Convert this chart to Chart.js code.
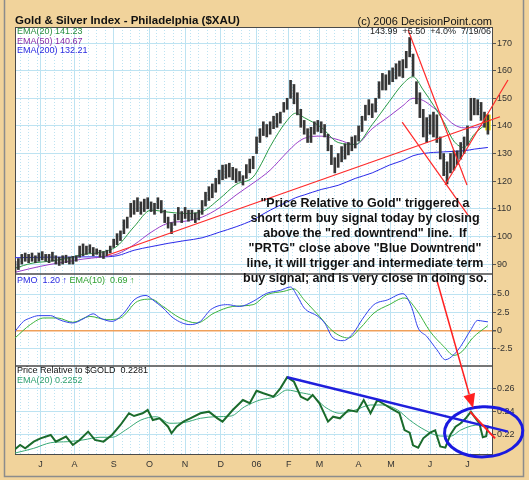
<!DOCTYPE html>
<html>
<head>
<meta charset="utf-8">
<script src="https://cdn.jsdelivr.net/npm/chart.js@4.4.1/dist/chart.umd.min.js"></script>
<style>
  html, body { margin: 0; padding: 0; background: #f1d39b; }
  #wrap { position: relative; width: 529px; height: 480px; overflow: hidden; }
  #wrap canvas { position: absolute; left: 0; top: 0; }
  .lbl { position: absolute; font-family: "Liberation Sans", Arial, sans-serif; white-space: pre; line-height: 1; }
  .note { position: absolute; left: 215px; top: 196px; width: 300px; text-align: center;
          font: bold 12.5px/15px "Liberation Sans", Arial, sans-serif; color: #111; white-space: pre; }
</style>
</head>
<body>
<div id="wrap">
  <canvas id="chart" width="529" height="480"></canvas>
  <div class="lbl" style="left:15px;top:15px;font-size:11.5px;font-weight:bold;color:#111">Gold &amp; Silver Index - Philadelphia ($XAU)</div>
  <div class="lbl" style="right:37px;top:15.7px;font-size:11px;color:#111">(c) 2006 DecisionPoint.com</div>
  <div class="lbl" style="right:38px;top:27.4px;font-size:9px;color:#222">143.99  +5.50  +4.0%  7/19/06</div>
  <div class="lbl" style="left:17px;top:27.4px;font-size:9px;color:#2a8f3f">EMA(20) 141.23</div>
  <div class="lbl" style="left:17px;top:36.9px;font-size:9px;color:#8a2fa8">EMA(50) 140.67</div>
  <div class="lbl" style="left:17px;top:46.4px;font-size:9px;color:#2a2ae0">EMA(200) 132.21</div>
  <div class="lbl" style="left:17px;top:276.4px;font-size:9px;color:#2a2ae0">PMO  1.20 &#8593; <span style="color:#30a030">EMA(10)  0.69 &#8593;</span></div>
  <div class="lbl" style="left:17px;top:366.4px;font-size:9px;color:#111">Price Relative to $GOLD  0.2281</div>
  <div class="lbl" style="left:17px;top:376.4px;font-size:9px;color:#30a070">EMA(20) 0.2252</div>
  <div class="note">"Price Relative to Gold" triggered a
short term buy signal today by closing
above the "red downtrend" line.  If
"PRTG" close above "Blue Downtrend"
line, it will trigger and intermediate term
buy signal; and is very close in doing so.</div>
</div>
<script>
// x positions are trading-day numbers, day 0 = early June 2005, day 278 = 7/19/06
const monthDays = [15, 35, 58, 79, 100, 121, 142, 161, 179, 202, 221, 244, 266];
const monthLabels = ['J', 'A', 'S', 'O', 'N', 'D', '06', 'F', 'M', 'A', 'M', 'J', 'J'];
const priceTicks = [90, 100, 110, 120, 130, 140, 150, 160, 170];
const pmoTicks = [-2.5, 0, 2.5, 5];
const prTicks = [0.22, 0.24, 0.26];

// daily price bars, one every second trading day
const priceLow = [87,88,90,91,90.5,91,90.5,91,91.5,91, 90.5,91,90,89.5,90,90.5,90,90,91,92.5,
  93,93.5,94,93,93.5,92.5,92,93,94,96, 97,98.5,101,103,107,108,109,108,109,110,
  109,108,110,108.5,105,103,101,104,106,105, 106.5,105.5,106,105,106,108,111,113,114,116,
  119,120.5,121,121.5,120.5,119.5,120,118.6,121,123, 124.5,130,134,136.5,136,137,139,139.5,141,145,
  146,150,148,144,139.5,137,134,134,137,138, 137.5,136,131,126,123,125,127,128,129.5,131,
  132,134.5,138,142,144,143,145,150,153,153, 155,156,157,158,157.5,161,165,158,148,143,
  136,134,137,136,134,128,122,119,123,124, 126,128,130,133,142,144,144,142,139.5,137];
const priceHigh = [91,92,93.5,94,93.5,94,93,94,94.5,93.5, 93.5,94.3,93,92.5,93,93.2,92.5,92.8,93,96.5,
  97.3,96.5,97,96,95.5,95,94.5,95,96.5,99, 101,102,106,107,112,113,114,112.5,113.5,114,
  112.5,112,114,113,109.5,107,105,108,110.5,109, 110.5,109.5,109.5,108.5,109.5,113,116,118,119,121,
  124,125.8,126,126.5,125,124.5,123.5,122,126,128, 129,136,139,141.5,140.5,141.5,143.5,144.5,145,148.5,
  150,156.5,155,152,146,142,139,139.5,141.5,142, 141.5,140.5,137,133,128.5,130,132.5,133.5,134,136,
  136.5,140,143.5,147.5,149.5,148,150,156,159,158.5, 160,161,162.5,163.5,164,167,172,166,156,152,
  146,143,144,145,144,136,130,127,130,131, 131,134,136,140,150,150,149.5,148.5,145,144];
const barDays = priceLow.map((_, i) => i * 2);
const lastDay = 278;
const lastBar = [138.5, 144];

const emaDays = [0,10,20,30,40,50,60,70,80,90,100,110,120,130,140,145,150,160,165,170,
  180,190,200,210,220,228,234,240,246,252,258,264,270,278];
const ema20 = [88.5,90.3,91,92,93.5,94.2,96.5,103.5,109.5,108.8,108.3,109,113.5,118.8,121.5,126.5,132.5,142,144.6,143,
  139.5,134,133.3,140.5,148.8,155.2,157.8,153,147.5,141.5,134.5,132.2,137,141.2];
const ema50 = [87,88.5,89.8,90.8,91.8,92.5,93.6,97,101.5,104.8,105.5,107,110.3,115,119.3,121.5,124,130.5,133.5,135.5,
  136.3,135,133.2,139,143.5,147.3,150,149.2,146.6,143.8,140.5,139.3,139.4,141];
const ema200 = [92.3,92.4,92.5,92.5,92.6,92.6,93,95,96.3,97.5,98.5,99.5,101.5,103.5,106,107.8,109.5,112.5,114,115,
  117,118.5,121,123,125.8,127.5,129.2,130,130.4,130.6,130.8,131,131.6,132.2];

const pmoDays = [0,5,9,14,21,26,34,40,46,50,57,64,70,77,81,87,93,103,109,115,125,132,140,148,156,162,166,170,178,182,
  187,193,199,204,211,219,228,233,237,242,248,253,258,262,268,272,275,278];
const pmo = [-0.1,1.27,1.73,2.05,2.05,1.5,1.05,1.6,2.3,1.73,1.27,2.4,4.2,4.8,4.2,3.1,1.73,0.82,1.27,2.86,
  3.55,3.3,4.0,5.1,5.5,5.96,4.7,3.1,1.95,1.05,-1.0,-1.36,-0.3,1.5,3.55,4.2,5.05,3.3,0.36,-0.77,
  -2.6,-3.96,-3.27,-2.14,0.14,1.4,1.3,1.2];
const pmoEmaDays = [0,9,17,25,34,44,54,62,72,80,87,97,107,117,128,140,148,158,164,170,
  179,187,196,203,211,220,229,236,244,252,258,263,269,278];
const pmoEma = [-1.0,0.82,1.73,1.73,1.14,1.95,1.5,1.73,4.0,4.3,3.3,1.73,1.05,2.4,3.3,3.55,4.9,5.36,5.7,4.2,
  1.95,-0.1,-1.0,0.36,2.4,3.55,4.46,2.86,-0.1,-2.14,-3.37,-2.8,-1.0,0.69];

const prDays = [0,3,6,11,15,21,24,30,34,38,43,47,52,57,62,67,70,75,78,81,85,90,92,95,99,103,109,114,119,122,
  128,134,138,142,146,152,156,160,164,168,172,175,179,184,187,191,196,201,205,209,213,216,221,226,229,232,234,237,240,244,
  247,250,253,256,259,262,265,268,270,273,275,277,278];
const prValues = [0.2076,0.2113,0.2084,0.2142,0.2171,0.22,0.2142,0.2186,0.2113,0.2157,0.2229,0.2157,0.2142,0.22,0.2287,
  0.2389,0.2365,0.2389,0.2417,0.233,0.2345,0.2272,0.2215,0.2272,0.2316,0.2345,0.2389,0.2403,0.2345,0.2316,
  0.2417,0.2504,0.2476,0.2585,0.2563,0.2533,0.2606,0.2702,0.2663,0.2533,0.2504,0.2548,0.2476,0.2316,0.2359,
  0.2345,0.2417,0.2403,0.2504,0.2389,0.2504,0.2476,0.2432,0.239,0.2243,0.222,0.211,0.209,0.2171,0.222,
  0.224,0.21,0.209,0.2205,0.2272,0.2302,0.2345,0.2403,0.236,0.230,0.218,0.219,0.2281];
const prEmaDays = [0,11,21,31,40,50,57,65,74,83,91,100,109,118,127,135,144,153,160,168,
  175,182,191,200,209,216,225,232,241,250,256,262,268,273,278];
const prEma = [0.2043,0.2084,0.2133,0.2142,0.2157,0.218,0.218,0.2243,0.233,0.2359,0.2302,0.231,0.2345,0.2359,0.2365,
  0.2446,0.2504,0.2533,0.2591,0.2568,0.254,0.2446,0.2389,0.2417,0.2461,0.2461,0.2417,0.233,0.2243,0.2191,
  0.219,0.2243,0.2278,0.2287,0.2252];

// hand drawn trend lines: [day, value] end points
const priceTrendLines = [
  [[54.3, 93.2], [285.1, 143.3]],
  [[231.1, 174.7], [265.7, 118.6]],
  [[227.6, 141.4], [266.3, 107.7]],
  [[252.8, 118.6], [289.8, 156.6]]
];
const prBlueLine = [[160, 0.2702], [289.8, 0.2229]];
const prRedLine = [[267.5, 0.2403], [282.2, 0.2171]];
// circled area on the PR pane (centre day/value, radius in days/value)
const circleAt = [275.5, 0.2228, 23, 0.0218];
// arrow from the note (PMO pane) down to the PR pane
const arrowFrom = [248.1, 6.8];
const arrowTo = [269.3, 0.2435];

const gridBlue = '#bde3f2';
const pts = (days, vals) => days.map((d, i) => ({ x: d, y: vals[i] }));
const seg = p => p.map(([x, y]) => ({ x, y }));

Chart.defaults.font.family = '"Liberation Sans", Arial, sans-serif';
Chart.defaults.font.size = 9;
Chart.defaults.color = '#333';

const line = (data, color, width, yAxisID, extra) => Object.assign({
  type: 'line', data, borderColor: color, borderWidth: width, pointRadius: 0,
  yAxisID, xAxisID: 'x', fill: false
}, extra || {});

const datasets = [
  line(seg(priceTrendLines[0]), '#ff2a2a', 1.2, 'y', { clip: false }),
  line(seg(priceTrendLines[1]), '#ff2a2a', 1.2, 'y', { clip: false }),
  line(seg(priceTrendLines[2]), '#ff2a2a', 1.2, 'y', { clip: false }),
  line(seg(priceTrendLines[3]), '#ff2a2a', 1.2, 'y', { clip: false }),
  {
    type: 'bar', data: barDays.map((d, i) => ({ x: d, y: [priceLow[i], priceHigh[i]] })),
    backgroundColor: '#363636', barThickness: 2, grouped: false, yAxisID: 'y', xAxisID: 'x'
  },
  {
    type: 'bar', data: [{ x: lastDay, y: lastBar }],
    backgroundColor: '#f4e31c', barThickness: 5, grouped: false, yAxisID: 'y', xAxisID: 'x'
  },
  line(pts(emaDays, ema20), '#2a9a45', 1, 'y', { cubicInterpolationMode: 'monotone' }),
  line(pts(emaDays, ema50), '#9a3fc9', 1, 'y', { cubicInterpolationMode: 'monotone' }),
  line(pts(emaDays, ema200), '#2b2bea', 1, 'y', { cubicInterpolationMode: 'monotone' }),
  line(pts(pmoDays, pmo), '#3344ee', 1, 'pmo', { cubicInterpolationMode: 'monotone' }),
  line(pts(pmoEmaDays, pmoEma), '#3cb43c', 1, 'pmo', { cubicInterpolationMode: 'monotone' }),
  line(seg(prRedLine), '#ff2020', 2, 'pr', { clip: false }),
  line(seg(prBlueLine), '#1f1fdc', 2.5, 'pr', { clip: false }),
  line(pts(prDays, prValues), '#1b6b2c', 2, 'pr'),
  line(pts(prEmaDays, prEma), '#3aaa78', 1, 'pr', { cubicInterpolationMode: 'monotone' })
];

const setTicks = list => scale => { scale.ticks = list.map(v => ({ value: v })); };

const yScale = (weight, min, max, list, fmt, extraGrid) => ({
  type: 'linear', position: 'right', stack: 'panes', stackWeight: weight, min, max, offset: false,
  afterBuildTicks: setTicks(list),
  afterFit: s => { s.width = 36; },
  ticks: { callback: fmt, padding: 1, color: '#333', font: { size: 9 } },
  grid: Object.assign({ color: gridBlue, tickColor: '#555', tickLength: 3 }, extraGrid || {}),
  border: { display: false }
});

const panes = {
  id: 'panes',
  beforeDraw(chart) {
    const { ctx, chartArea: a } = chart;
    ctx.save();
    ctx.fillStyle = '#f1d39b';
    ctx.fillRect(0, 0, chart.width, chart.height);
    ctx.strokeStyle = '#8c8c8c';
    ctx.lineWidth = 1.5;
    ctx.beginPath();
    ctx.moveTo(4.5, 0); ctx.lineTo(4.5, 476.5); ctx.lineTo(523.5, 476.5); ctx.lineTo(523.5, 0);
    ctx.stroke();
    ctx.fillStyle = '#ffffff';
    ctx.fillRect(a.left, a.top, a.right - a.left, a.bottom - a.top);
    ctx.restore();
  },
  beforeDatasetsDraw(chart) {
    const { ctx, chartArea: a, scales } = chart;
    ctx.save();
    ctx.strokeStyle = '#4a4a4a';
    ctx.lineWidth = 1;
    ctx.strokeRect(a.left + 0.5, a.top + 0.5, a.right - a.left - 1, a.bottom - a.top - 1);
    ctx.lineWidth = 1.5;
    [scales.pmo.top, scales.pr.top].forEach(y => {
      ctx.beginPath();
      ctx.moveTo(a.left, y);
      ctx.lineTo(a.right, y);
      ctx.stroke();
    });
    ctx.restore();
  },
  afterDatasetsDraw(chart) {
    const { ctx, scales: { x, pmo, pr } } = chart;
    ctx.save();
    // circle
    const cx = x.getPixelForValue(circleAt[0]);
    const cy = pr.getPixelForValue(circleAt[1]);
    const rx = x.getPixelForValue(circleAt[0] + circleAt[2]) - cx;
    const ry = cy - pr.getPixelForValue(circleAt[1] + circleAt[3]);
    ctx.strokeStyle = '#1a1ae0';
    ctx.lineWidth = 3;
    ctx.beginPath();
    ctx.ellipse(cx, cy, rx, ry, -0.04, 0, Math.PI * 2);
    ctx.stroke();
    // arrow
    const x0 = x.getPixelForValue(arrowFrom[0]), y0 = pmo.getPixelForValue(arrowFrom[1]);
    const x1 = x.getPixelForValue(arrowTo[0]), y1 = pr.getPixelForValue(arrowTo[1]);
    const ang = Math.atan2(y1 - y0, x1 - x0);
    const hl = 14, hw = 6;
    const bx = x1 - hl * Math.cos(ang), by = y1 - hl * Math.sin(ang);
    ctx.strokeStyle = '#ff2020';
    ctx.fillStyle = '#ff2020';
    ctx.lineWidth = 1.5;
    ctx.beginPath();
    ctx.moveTo(x0, y0);
    ctx.lineTo(bx, by);
    ctx.stroke();
    ctx.beginPath();
    ctx.moveTo(x1, y1);
    ctx.lineTo(bx + hw * Math.sin(ang), by - hw * Math.cos(ang));
    ctx.lineTo(bx - hw * Math.sin(ang), by + hw * Math.cos(ang));
    ctx.closePath();
    ctx.fill();
    ctx.restore();
  }
};

new Chart(document.getElementById('chart'), {
  type: 'line',
  data: { datasets },
  options: {
    responsive: false,
    animation: false,
    events: [],
    layout: { padding: { left: 15, top: 27, right: 0, bottom: 0 } },
    plugins: { legend: { display: false }, tooltip: { enabled: false } },
    scales: {
      x: {
        type: 'linear', position: 'bottom', min: 0, max: 281, offset: false,
        afterBuildTicks: setTicks(monthDays),
        afterFit: s => { s.height = 25; },
        ticks: { callback: (v, i) => monthLabels[i], autoSkip: false, maxRotation: 0, padding: 4, color: '#333', font: { size: 9 } },
        grid: { color: gridBlue, drawTicks: false, offset: false },
        border: { display: false }
      },
      x2: {
        type: 'linear', position: 'bottom', min: 0, max: 281, offset: false,
        afterBuildTicks: scale => {
          const w = [];
          for (let d = 3; d < 281; d += 5) w.push({ value: d });
          scale.ticks = w;
        },
        afterFit: s => { s.height = 0; },
        ticks: { display: false },
        grid: { color: gridBlue, drawTicks: false, offset: false },
        border: { display: false, dash: [1, 2] }
      },
      y: yScale(247, 86.4, 175.8, priceTicks, v => String(v)),
      pmo: yScale(92, -4.82, 7.73, pmoTicks, v => (v === 0 ? '0' : v.toFixed(1)), {
        color: c => (c.tick && c.tick.value === 0 ? '#f0a05a' : gridBlue),
        lineWidth: c => (c.tick && c.tick.value === 0 ? 1.5 : 1)
      }),
      pr: yScale(89, 0.2026, 0.28, prTicks, v => v.toFixed(2))
    }
  },
  plugins: [panes]
});
</script>
</body>
</html>
